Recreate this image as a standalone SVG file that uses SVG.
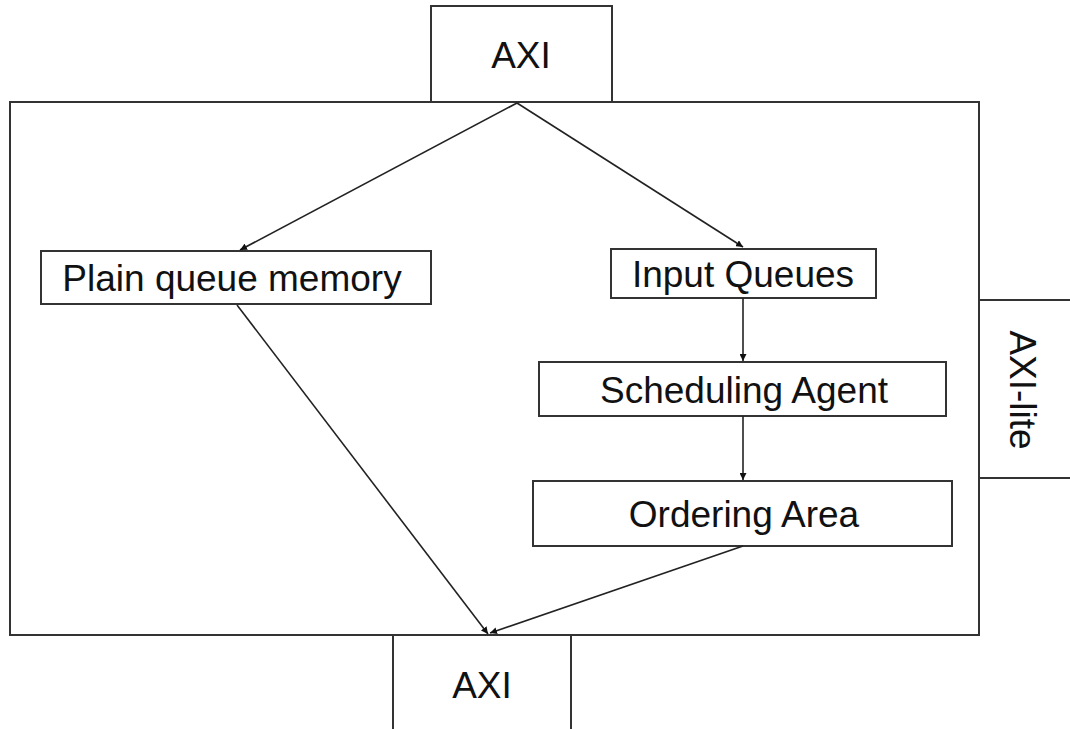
<svg xmlns="http://www.w3.org/2000/svg" width="1070" height="729" viewBox="0 0 1070 729">
<style>
.box{fill:#fff;stroke:#333;stroke-width:2}
.t{font-family:"Liberation Sans",Arial,sans-serif;font-size:37px;fill:#111;text-anchor:middle}
.c{stroke:#222;stroke-width:1.6;fill:none;marker-end:url(#ah)}
</style>
<defs>
<marker id="ah" viewBox="0 0 10 10" refX="10" refY="5" markerWidth="7" markerHeight="7" markerUnits="userSpaceOnUse" orient="auto">
<path d="M0,0 L10,5 L0,10 z" fill="#111"/>
</marker>
</defs>
<rect width="1070" height="729" fill="#fff"/>
<g id="axi-top"><rect class="box" x="431" y="6" width="181" height="96"/><text class="t" x="521" y="68">AXI</text></g>
<g id="main"><rect class="box" x="10" y="102" width="969" height="533"/></g>
<g id="axi-bottom"><path class="box" d="M393,729 V635 H571 V729"/><text class="t" x="482" y="698">AXI</text></g>
<g id="axi-lite"><path class="box" d="M1071,300 H979 V478 H1071"/><text class="t" transform="translate(1010,390) rotate(90)">AXI-lite</text></g>
<g id="plain"><rect class="box" x="41" y="251" width="390" height="53"/><text class="t" x="232" y="291">Plain queue memory</text></g>
<g id="input"><rect class="box" x="611" y="249" width="265" height="49"/><text class="t" x="743" y="287">Input Queues</text></g>
<g id="sched"><rect class="box" x="539" y="362" width="407" height="54"/><text class="t" x="744" y="403">Scheduling Agent</text></g>
<g id="order"><rect class="box" x="533" y="481" width="419" height="65"/><text class="t" x="744" y="527">Ordering Area</text></g>
<g id="connectors">
<line class="c" x1="517" y1="103" x2="240" y2="250"/>
<line class="c" x1="517" y1="103" x2="743" y2="247"/>
<line class="c" x1="743" y1="298" x2="743" y2="361"/>
<line class="c" x1="743" y1="416" x2="743" y2="480"/>
<line class="c" x1="237" y1="305" x2="488" y2="634"/>
<line class="c" x1="743" y1="546" x2="490" y2="633"/>
</g>
</svg>
